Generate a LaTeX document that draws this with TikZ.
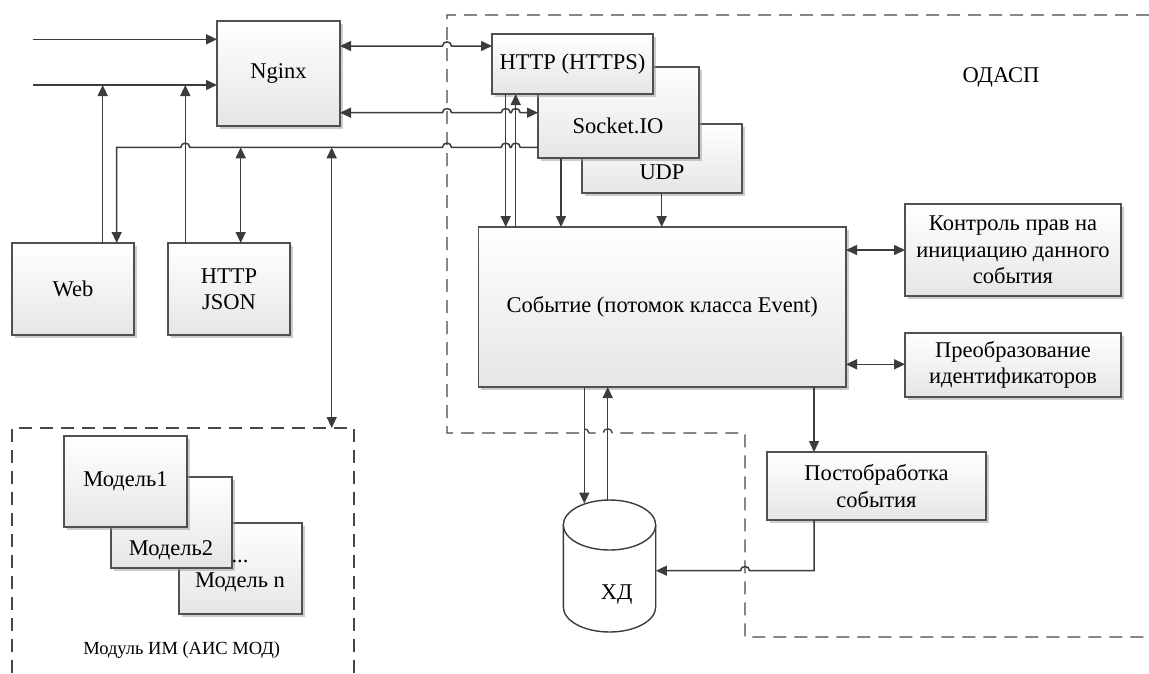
\documentclass[tikz,border=0pt]{standalone}
\usepackage{fontspec}
\setmainfont{Liberation Serif}
\usetikzlibrary{arrows.meta,shadows}
\definecolor{linec}{HTML}{3C3C3C}
\definecolor{boxline}{HTML}{505050}
\definecolor{dashc}{HTML}{474747}
% small bridge where a line jumps over another one
\newcommand\hopR[2]{-- (#1-4.5,#2) .. controls (#1-4.5,#2-5.5) and (#1+4.5,#2-5.5) .. (#1+4.5,#2)}
\newcommand\hopL[2]{-- (#1+4.5,#2) .. controls (#1+4.5,#2-5.5) and (#1-4.5,#2-5.5) .. (#1-4.5,#2)}
\begin{document}
\begin{tikzpicture}[x=1pt, y=-1pt,
  >={Triangle[length=11pt,width=10pt]},
  box/.style={draw=boxline, line width=1.2pt, top color=white, bottom color=black!10,
    drop shadow={shadow xshift=2.5pt, shadow yshift=-2.5pt, fill=black!40, opacity=.5},
    inner sep=0pt, outer sep=0pt, anchor=north west, align=center,
    font=\fontsize{22.5}{26.5}\selectfont},
  lbl/.style={inner sep=0pt, font=\fontsize{22.5}{26.5}\selectfont},
  conn/.style={draw=linec, line width=1.5pt},
  dashline/.style={draw=dashc, line width=1.4pt, dash pattern=on 13pt off 8pt}]
\useasboundingbox (0,0) rectangle (1149,673);

% system boundaries
\draw[dashline] (1149,15) -- (447,15) -- (447,433) \hopR{584.3}{433} \hopR{607.7}{433} -- (745,433) -- (745,637) -- (1149,637);
\draw[dashline] (12,673) -- (12,428) -- (354,428) -- (354,673);
\node[lbl] (odasp) at (1001,77) {ОДАСП};
\node[inner sep=0pt, font=\fontsize{18.5}{22}\selectfont] (modlabel) at (181.7,650) {Модуль ИМ (АИС МОД)};

% front end
\node[box, minimum width=123, minimum height=105] (nginx) at (217,21) {Nginx};
\node[box, minimum width=122, minimum height=92] (web) at (12,243) {Web};
\node[box, minimum width=122, minimum height=92] (json) at (168,243) {HTTP\\JSON};

% transports
\node[box, minimum width=160, minimum height=69] (udp) at (582,124) {};
\node[box, minimum width=161, minimum height=91] (socket) at (538,67) {};
\node[box, minimum width=161, minimum height=60] (http) at (492,34) {HTTP (HTTPS)};
\node[lbl] (udptext) at (662,172) {UDP};
\node[lbl] (sockettext) at (618,126) {Socket.IO};

% event processing
\node[box, minimum width=367.5, minimum height=160] (event) at (478.5,227) {Событие (потомок класса Event)};
\node[box, minimum width=216, minimum height=92] (ctrl) at (905,204) {Контроль прав на\\инициацию данного\\события};
\node[box, minimum width=216, minimum height=64] (conv) at (905,333) {Преобразование\\идентификаторов};
\node[box, minimum width=219, minimum height=68] (post) at (767,452) {Постобработка\\события};

% models
\node[box, minimum width=123, minimum height=91] (mn) at (179,523) {};
\node[box, minimum width=121, minimum height=91] (m2) at (111,477) {};
\node[box, minimum width=123, minimum height=91] (m1) at (64,436) {Модель1};
\node[lbl] (m2text) at (171,550) {Модель2};
\node[lbl] (mntext) at (240,582) {Модель n};
\node[lbl, anchor=base] (dots) at (240,562) {...};

% data store
\node[minimum width=92.4, minimum height=132, inner sep=0pt] (hd) at (609.5,566) {};
\filldraw[draw=linec, fill=white, line width=1.4pt]
  (563.3,525) -- (563.3,607) .. controls (563.3,620.8) and (584,632) .. (609.5,632)
  .. controls (635,632) and (655.7,620.8) .. (655.7,607) -- (655.7,525);
\filldraw[draw=linec, fill=white, line width=1.4pt] (609.5,525) ellipse [x radius=46.2, y radius=25];
\node[lbl] (hdtext) at (616.7,595) {ХД};

% incoming requests
\coordinate (in1) at (33,39.3);
\coordinate (in2) at (33,85);
\coordinate (j1) at (102.7,85);
\coordinate (j2) at (185.3,85);
\draw[conn,->] (in1) -- (in1 -| nginx.west);
\draw[conn,->] (in2) -- (in2 -| nginx.west);
\draw[conn,->] (j1 |- web.north) -- (j1);
\draw[conn,->] (j2 |- json.north) -- (j2);

% bus from Socket.IO back to the clients
\draw[conn,->] (socket.west |- 0,147.3) \hopL{515.7}{147.3} \hopL{505.7}{147.3} \hopL{447}{147.3} \hopL{185.3}{147.3}
  -- (116.7,147.3) -- (116.7,0 |- web.north);
\draw[conn,<->] (240.7,147.3) -- (240.7,0 |- json.north);
\draw[conn,<->] (331.7,147.3) -- (331.7,428);

% Nginx to transports
\draw[conn,<->] (nginx.east |- 0,46) \hopR{447}{46} -- (http.west |- 0,46);
\draw[conn,<->] (nginx.east |- 0,112.7) \hopR{447}{112.7} \hopR{505.7}{112.7} \hopR{515.7}{112.7} -- (socket.west |- 0,112.7);

% transports to event
\draw[conn,->] (505.7,0 |- http.south) -- (505.7,0 |- event.north);
\draw[conn,<-] (515.7,0 |- http.south) -- (515.7,0 |- event.north);
\draw[conn,->] (561,0 |- socket.south) -- (561,0 |- event.north);
\draw[conn,->] (661.7,0 |- udp.south) -- (661.7,0 |- event.north);

% event to its helpers
\draw[conn,<->] (event.east |- 0,250) -- (ctrl.west |- 0,250);
\draw[conn,<->] (event.east |- 0,364.3) -- (conv.west |- 0,364.3);
\draw[conn,->] (814,0 |- event.south) -- (814,0 |- post.north);
\draw[conn,->] (584.3,0 |- event.south) -- (584.3,503.5);
\draw[conn,->] (607.7,500.2) -- (607.7,0 |- event.south);
\draw[conn,->] (814,0 |- post.south) -- (814,570.7) \hopL{745}{570.7} -- (hd.east |- 0,570.7);
\end{tikzpicture}
\end{document}
